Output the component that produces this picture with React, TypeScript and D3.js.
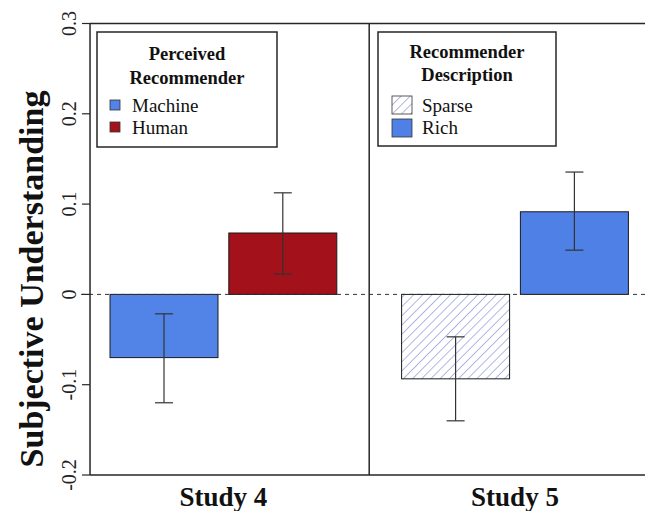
import React from "react";
import * as d3 from "d3";

const studies = ["Study 4", "Study 5"];
const conditions = ["Machine", "Human", "Sparse", "Rich"];
const conditionStudy = [0, 0, 1, 1];
const means = [-0.07, 0.068, -0.0935, 0.0915];
const lower = [-0.12, 0.0225, -0.14, 0.049];
const upper = [-0.0215, 0.1125, -0.047, 0.1355];
const yTicks = [-0.2, -0.1, 0, 0.1, 0.2, 0.3];
const legendTitles = [["Perceived", "Recommender"], ["Recommender", "Description"]];

const fills: Record<string, string> = {
  Machine: "#5283e6",
  Human: "#a3111b",
  Sparse: "url(#hatch)",
  Rich: "#4f80e6",
};

const W = 645;
const H = 511;
const serif = "'Liberation Serif', 'Times New Roman', serif";

export default function App() {
  const y = d3.scaleLinear().domain([-0.2, 0.3]).range([475, 23.5]);
  // bar slots: width 1, gap 0.1 within a study, extra 0.5 between studies
  const x = d3.scaleLinear().domain([0, 4.8]).range([110, 628.4]);
  const barStart = conditions.map((_, i) => i * 1.1 + conditionStudy[i] * 0.5);
  const axisX = x(-0.185);
  const divX = x(2.4);
  const ink = "#262626";

  return (
    <svg width={W} height={H} style={{ position: "absolute", left: 0, top: 0 }}>
      <defs>
        <pattern id="hatch" patternUnits="userSpaceOnUse" width={6.5} height={6.5} patternTransform="rotate(45)">
          <rect width={6.5} height={6.5} fill="#ffffff" />
          <line x1={0} y1={0} x2={0} y2={6.5} stroke="#7f84d4" strokeWidth={1.2} />
        </pattern>
      </defs>
      <rect width={W} height={H} fill="#ffffff" />

      {/* bars */}
      {conditions.map((c, i) => {
        const x0 = x(barStart[i]);
        const x1 = x(barStart[i] + 1);
        const yt = y(Math.max(0, means[i]));
        const yb = y(Math.min(0, means[i]));
        return (
          <rect key={c} x={x0} y={yt} width={x1 - x0} height={yb - yt}
            fill={fills[c]} stroke="#1a1a1a" strokeWidth={1} />
        );
      })}

      {/* zero line */}
      <line x1={axisX - 9} x2={W} y1={y(0)} y2={y(0)} stroke="#333" strokeWidth={1} strokeDasharray="4,4" />

      {/* error bars */}
      {conditions.map((c, i) => {
        const cx = x(barStart[i] + 0.5);
        return (
          <g key={c} stroke="#333" strokeWidth={1.2}>
            <line x1={cx} x2={cx} y1={y(lower[i])} y2={y(upper[i])} />
            <line x1={cx - 9} x2={cx + 9} y1={y(lower[i])} y2={y(lower[i])} />
            <line x1={cx - 9} x2={cx + 9} y1={y(upper[i])} y2={y(upper[i])} />
          </g>
        );
      })}

      {/* frame */}
      <g stroke={ink} strokeWidth={1.5}>
        <line x1={axisX} x2={W} y1={y(0.3)} y2={y(0.3)} />
        <line x1={axisX} x2={W} y1={y(-0.2)} y2={y(-0.2)} />
        <line x1={axisX} x2={axisX} y1={y(0.3)} y2={y(-0.2)} />
        <line x1={divX} x2={divX} y1={y(0.3)} y2={y(-0.2)} />
      </g>

      {/* y axis ticks */}
      {yTicks.map((t) => (
        <g key={t}>
          <line x1={axisX - 8} x2={axisX} y1={y(t)} y2={y(t)} stroke={ink} strokeWidth={1.2} />
          <text transform={`translate(76,${y(t)}) rotate(-90)`} textAnchor="middle"
            fontFamily={serif} fontSize={20} fill="#222">{String(t)}</text>
        </g>
      ))}
      <text transform={`translate(43,279) rotate(-90)`} textAnchor="middle"
        fontFamily={serif} fontSize={34} fontWeight="bold" fill="#111">Subjective Understanding</text>

      {/* study labels */}
      {studies.map((s, g) => (
        <text key={s} x={x(g === 0 ? 1.05 : 3.75)} y={506} textAnchor="middle"
          fontFamily={serif} fontSize={27} fontWeight="bold" fill="#111">{s}</text>
      ))}

      {/* legends */}
      <g fontFamily={serif} fill="#111">
        <rect x={97} y={32} width={180} height={115} fill="#fff" stroke={ink} strokeWidth={1.5} />
        <text x={187} y={60} textAnchor="middle" fontSize={18.5} fontWeight="bold">{legendTitles[0][0]}</text>
        <text x={187} y={84} textAnchor="middle" fontSize={18.5} fontWeight="bold">{legendTitles[0][1]}</text>
        <rect x={110} y={100} width={10} height={10} fill={fills.Machine} stroke="#333" strokeWidth={0.8} />
        <text x={132} y={112} fontSize={19}>{conditions[0]}</text>
        <rect x={110} y={122} width={10} height={10} fill={fills.Human} stroke="#333" strokeWidth={0.8} />
        <text x={132} y={134} fontSize={19}>{conditions[1]}</text>

        <rect x={378} y={32} width={178} height={114} fill="#fff" stroke={ink} strokeWidth={1.5} />
        <text x={467} y={58} textAnchor="middle" fontSize={18.5} fontWeight="bold">{legendTitles[1][0]}</text>
        <text x={467} y={81} textAnchor="middle" fontSize={18.5} fontWeight="bold">{legendTitles[1][1]}</text>
        <rect x={392} y={96} width={20} height={18} fill={fills.Sparse} stroke="#333" strokeWidth={0.8} />
        <text x={422} y={112} fontSize={19}>{conditions[2]}</text>
        <rect x={392} y={119} width={20} height={18} fill={fills.Rich} stroke="#333" strokeWidth={0.8} />
        <text x={422} y={134} fontSize={19}>{conditions[3]}</text>
      </g>
    </svg>
  );
}
